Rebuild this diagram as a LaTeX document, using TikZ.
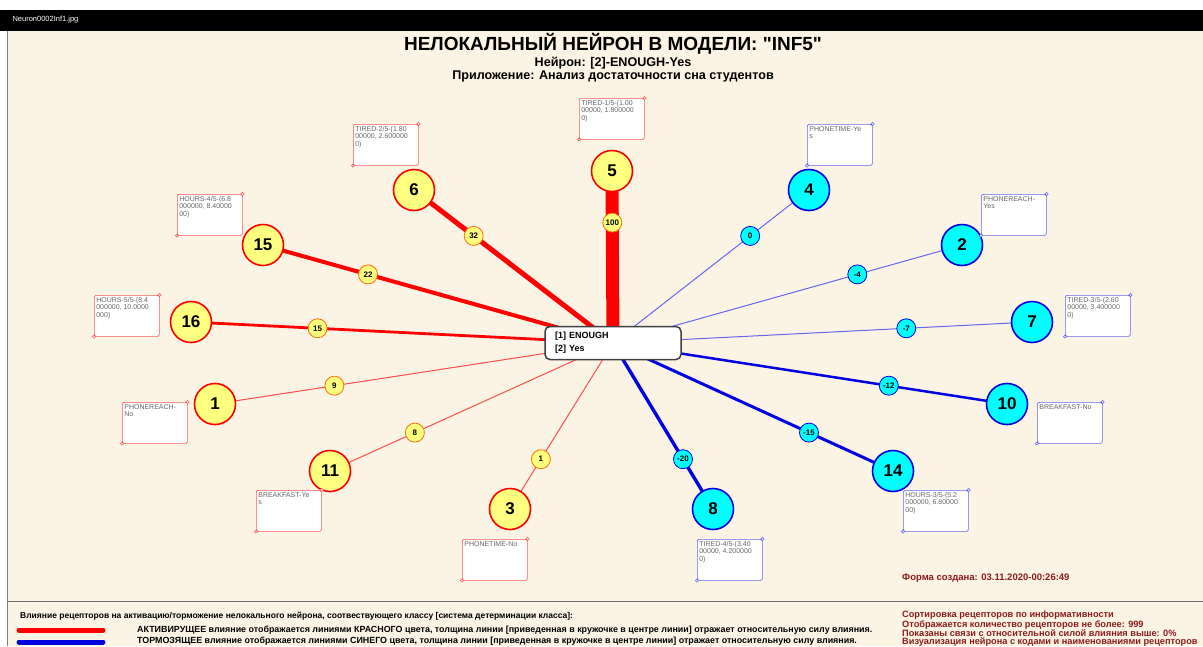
\documentclass[tikz,border=0pt]{standalone}
\usepackage{fontspec}
\setmainfont{Liberation Sans}[Ligatures=TeXOff]
\usetikzlibrary{positioning,backgrounds}
\definecolor{nbcream}{RGB}{251,244,229}
\definecolor{nbyellow}{RGB}{255,255,128}
\definecolor{nbcyan}{RGB}{0,255,255}
\definecolor{nbred}{RGB}{255,0,0}
\definecolor{nbblue}{RGB}{0,0,225}
\definecolor{nbmaroon}{RGB}{140,28,28}
\newcommand{\tagtxt}[1]{\parbox[t][37pt][t]{61pt}{\raggedright #1}}
\newcommand{\tagdots}[2]{\draw[#2, fill=white, line width=0.6pt] (#1.north east) circle[radius=1.6pt] (#1.south west) circle[radius=1.6pt];}

\begin{document}
\begin{tikzpicture}[x=1pt, y=-1pt]
  \tikzset{actnode/.style={circle, draw=nbred, line width=1.6pt, fill=nbyellow, minimum size=41pt, inner sep=0pt, font=\fontsize{17}{17}\selectfont\bfseries},
    inhnode/.style={actnode, draw=nbblue, fill=nbcyan},
    actval/.style={circle, draw=orange!85!red, line width=0.8pt, fill=nbyellow, minimum size=19pt, inner sep=0pt, font=\fontsize{8}{8}\selectfont\bfseries},
    inhval/.style={actval, draw=nbblue, fill=nbcyan},
    acttag/.style={draw=nbred!65, fill=white, rounded corners=2pt, line width=0.7pt, anchor=north west, inner sep=2pt, font=\fontsize{7}{7.5}\selectfont, text=black!60},
    inhtag/.style={acttag, draw=nbblue!60},
    actline/.style={draw=nbred},
    inhline/.style={draw=nbblue},
    subtitle/.style={font=\fontsize{12.6}{13}\selectfont\bfseries, inner sep=0.5pt},
    legend/.style={anchor=west, inner sep=0pt, font=\fontsize{8.9}{8.9}\selectfont\bfseries}}
  \useasboundingbox (0,0) rectangle (1203,646);
  \clip (0,0) rectangle (1203,646);

  % heading
  \node[font=\fontsize{19}{19}\selectfont\bfseries, inner sep=0pt] (title) at (613,44) {НЕЛОКАЛЬНЫЙ НЕЙРОН В МОДЕЛИ: "INF5"};
  \node[subtitle, below=1.5pt of title] (neuron) {Нейрон: [2]-ENOUGH-Yes};
  \node[subtitle, below=1pt of neuron] (appl) {Приложение: Анализ достаточности сна студентов};
  \node[anchor=west, text=white, font=\fontsize{7.5}{7.5}\selectfont] (fname) at (9,20) {Neuron0002Inf1.jpg};

  % neuron
  \node[draw=black!75, line width=1.5pt, fill=white, rounded corners=5pt, minimum width=136pt, minimum height=33pt, text width=116pt, align=left, font=\fontsize{9}{13}\selectfont\bfseries] (hub) at (613,343) {[1] ENOUGH\\{}[2] Yes};

  % receptors
  \node[actnode] (r5) at (612,171) {5};
  \node[actnode] (r6) at (414,190) {6};
  \node[actnode] (r15) at (263,245) {15};
  \node[actnode] (r16) at (191,322) {16};
  \node[actnode] (r1) at (215,404) {1};
  \node[actnode] (r11) at (330,471) {11};
  \node[actnode] (r3) at (510,509) {3};
  \node[inhnode] (r8) at (713,509) {8};
  \node[inhnode] (r14) at (893,471) {14};
  \node[inhnode] (r10) at (1007,404) {10};
  \node[inhnode] (r7) at (1032,322) {7};
  \node[inhnode] (r2) at (962,245) {2};
  \node[inhnode] (r4) at (809,190) {4};

  % receptor names
  \node[acttag] (t5) at (579,98) {\tagtxt{TIRED-1/5-(1.00\\00000, 1.800000\\0)}};
  \node[acttag] (t6) at (353,124) {\tagtxt{TIRED-2/5-(1.80\\00000, 2.600000\\0)}};
  \node[acttag] (t15) at (177,194) {\tagtxt{HOURS-4/5-(6.8\\000000, 8.40000\\00)}};
  \node[acttag] (t16) at (94,295) {\tagtxt{HOURS-5/5-(8.4\\000000, 10.0000\\000)}};
  \node[acttag] (t1) at (122,402) {\tagtxt{PHONEREACH-\\No}};
  \node[acttag] (t11) at (256,490) {\tagtxt{BREAKFAST-Ye\\s}};
  \node[acttag] (t3) at (462,539) {\tagtxt{PHONETIME-No}};
  \node[inhtag] (t8) at (697,539) {\tagtxt{TIRED-4/5-(3.40\\00000, 4.200000\\0)}};
  \node[inhtag] (t14) at (903,490) {\tagtxt{HOURS-3/5-(5.2\\000000, 6.80000\\00)}};
  \node[inhtag] (t10) at (1037,402) {\tagtxt{BREAKFAST-No}};
  \node[inhtag] (t7) at (1065,295) {\tagtxt{TIRED-3/5-(2.60\\00000, 3.400000\\0)}};
  \node[inhtag] (t2) at (981,194) {\tagtxt{PHONEREACH-\\Yes}};
  \node[inhtag] (t4) at (807,124) {\tagtxt{PHONETIME-Ye\\s}};
  \tagdots{t5}{nbred!65} \tagdots{t6}{nbred!65} \tagdots{t15}{nbred!65} \tagdots{t16}{nbred!65}
  \tagdots{t1}{nbred!65} \tagdots{t11}{nbred!65} \tagdots{t3}{nbred!65}
  \tagdots{t8}{nbblue!60} \tagdots{t14}{nbblue!60} \tagdots{t10}{nbblue!60} \tagdots{t7}{nbblue!60}
  \tagdots{t2}{nbblue!60} \tagdots{t4}{nbblue!60}

  % footer
  \node[legend, text=nbmaroon, font=\fontsize{9.5}{9.5}\selectfont\bfseries] (stamp) at (902,578) {Форма создана: 03.11.2020-00:26:49};
  \node[legend, font=\fontsize{8.5}{8.5}\selectfont\bfseries] (infl) at (20,616) {Влияние рецепторов на активацию/торможение нелокального нейрона, соотвествующего классу [система детерминации класса]:};
  \node[legend] (actnote) at (137,630) {АКТИВИРУЩЕЕ влияние отображается линиями КРАСНОГО цвета, толщина линии [приведенная в кружочке в центре линии] отражает относительную силу влияния.};
  \node[legend] (inhnote) at (137,641.5) {ТОРМОЗЯЩЕЕ влияние отображается линиями СИНЕГО цвета, толщина линии [приведенная в кружочке в центре линии] отражает относительную силу влияния.};
  \node[legend, text=nbmaroon, align=left, anchor=north west, font=\fontsize{9.2}{8.2}\selectfont\bfseries] (opts) at (902,610.5) {Сортировка рецепторов по информативности\\Отображается количество рецепторов не более: 999\\Показаны связи с относительной силой влияния выше: 0\%\\Визуализация нейрона с кодами и наименованиями рецепторов};
  \coordinate (actA) at (19,630);
  \coordinate (actB) at (103,630);
  \coordinate (inhA) at (19,642);
  \coordinate (inhB) at (103,642);
  \draw[nbred, line width=5pt, line cap=round] (actA) -- (actB);
  \draw[nbblue, line width=5pt, line cap=round] (inhA) -- (inhB);

  \begin{scope}[on background layer]
    \fill[white] (0,0) rectangle (1203,10);
    \fill[black] (0,10) rectangle (1203,31);
    \fill[nbcream] (7,31) rectangle (1203,646);
    \draw[black!50, line width=1pt] (7.5,31) -- (7.5,646);
    \draw[black!55, line width=1pt] (7,601) -- (1203,601);
    % influences
    \draw[actline, line width=13pt] (hub.center) -- node[actval, pos=0.7] (v5) {100} (r5.center);
    \draw[actline, line width=5pt] (hub.center) -- node[actval, pos=0.7] (v6) {32} (r6.center);
    \draw[actline, line width=4pt] (hub.center) -- node[actval, pos=0.7] (v15) {22} (r15.center);
    \draw[actline, line width=2.8pt] (hub.center) -- node[actval, pos=0.7] (v16) {15} (r16.center);
    \draw[actline, draw=nbred!70, line width=1pt] (hub.center) -- node[actval, pos=0.7] (v1) {9} (r1.center);
    \draw[actline, draw=nbred!70, line width=1pt] (hub.center) -- node[actval, pos=0.7] (v11) {8} (r11.center);
    \draw[actline, draw=nbred!70, line width=1pt] (hub.center) -- node[actval, pos=0.7] (v3) {1} (r3.center);
    \draw[inhline, line width=3.4pt] (hub.center) -- node[inhval, pos=0.7] (v8) {-20} (r8.center);
    \draw[inhline, line width=3pt] (hub.center) -- node[inhval, pos=0.7] (v14) {-15} (r14.center);
    \draw[inhline, line width=2.5pt] (hub.center) -- node[inhval, pos=0.7] (v10) {-12} (r10.center);
    \draw[inhline, draw=nbblue!60, line width=1pt] (hub.center) -- node[inhval, pos=0.7] (v7) {-7} (r7.center);
    \draw[inhline, draw=nbblue!60, line width=1pt] (hub.center) -- node[inhval, pos=0.7] (v2) {-4} (r2.center);
    \draw[inhline, draw=nbblue!60, line width=1pt] (hub.center) -- node[inhval, pos=0.7] (v4) {0} (r4.center);
  \end{scope}
\end{tikzpicture}
\end{document}
